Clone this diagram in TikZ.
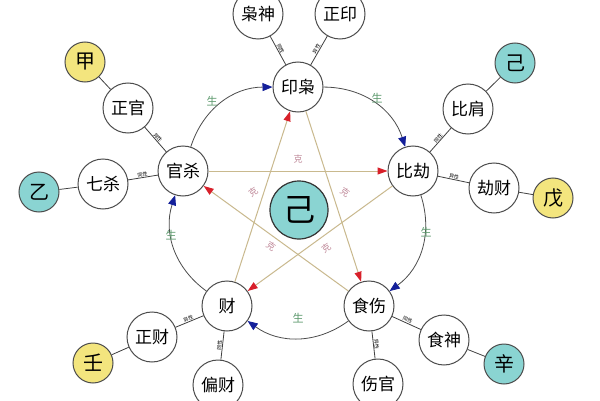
\documentclass[tikz,border=0pt]{standalone}
\usepackage{fontspec}
\setmainfont{Noto Sans CJK SC}
\usetikzlibrary{arrows.meta}
\definecolor{yellowfill}{HTML}{F3E57E}
\definecolor{cyanfill}{HTML}{8AD4D2}
\definecolor{shenggreen}{HTML}{5E9A6E}
\definecolor{kepink}{HTML}{C08A9A}
\definecolor{arrowblue}{HTML}{14209A}
\definecolor{arrowred}{HTML}{D8202A}
\definecolor{startan}{HTML}{C9B98E}
\begin{document}
\begin{tikzpicture}[x=1pt,y=1pt,
  god/.style={circle,draw=black!70,line width=1pt,fill=white,minimum size=50pt,inner sep=0pt,font=\fontsize{17}{17}\selectfont},
  stemy/.style={circle,draw=black!70,line width=1pt,fill=yellowfill,minimum size=40pt,inner sep=0pt,font=\fontsize{20}{20}\selectfont},
  stemc/.style={stemy,fill=cyanfill},
  link/.style={draw=black!75,line width=0.8pt},
  tag/.style={font=\fontsize{5}{5}\selectfont,sloped,above,inner sep=0.3pt,pos=0.5},
  sheng/.style={text=shenggreen,font=\fontsize{11}{11}\selectfont},
  ke/.style={text=kepink,font=\fontsize{9}{9}\selectfont},
  cyc/.style={draw=black!70,line width=0.8pt,-{Triangle[length=10pt,width=8pt,color=arrowblue]}},
  star/.style={draw=startan,line width=1pt,-{Triangle[length=10pt,width=7pt,color=arrowred]}},
]
\useasboundingbox (0,0) rectangle (600,400);
\clip (0,0) rectangle (600,400);
\fill[white] (0,0) rectangle (600,400);

% five main nodes on the cycle
\node[god] (yin) at (298,313) {印枭};
\node[god] (bi) at (413,229) {比劫};
\node[god] (shi) at (369,94) {食伤};
\node[god] (cai) at (227,94) {财};
\node[god] (guan) at (183,229) {官杀};

% centre
\node[circle,draw=black!80,line width=1.2pt,fill=cyanfill,minimum size=58pt,inner sep=0pt,font=\fontsize{32}{32}\selectfont] (ji) at (299,190) {己};

% satellites
\node[god] (xiaoshen) at (258,386) {枭神};
\node[god] (zhengyin) at (340,386) {正印};
\node[god] (zhengguan) at (128,292) {正官};
\node[god] (qisha) at (103,216) {七杀};
\node[god] (bijian) at (468,291) {比肩};
\node[god] (jiecai) at (494,212) {劫财};
\node[god] (zhengcai) at (152,63) {正财};
\node[god] (piancai) at (218,15) {偏财};
\node[god] (shishen) at (444,60) {食神};
\node[god] (shangguan) at (378,16) {伤官};

% stems
\node[stemy] (jia) at (85,338) {甲};
\node[stemc] (yi) at (39,208) {乙};
\node[stemc] (jitop) at (515,337) {己};
\node[stemy] (wu) at (553,202) {戊};
\node[stemy] (ren) at (93,37) {壬};
\node[stemc] (xin) at (504,36) {辛};

% cycle arcs (sheng)
\draw[cyc] (yin) to[bend left=36] (bi);
\draw[cyc] (bi) to[bend left=36] (shi);
\draw[cyc] (shi) to[bend left=36] (cai);
\draw[cyc] (cai) to[bend left=36] (guan);
\draw[cyc] (guan) to[bend left=36] (yin);

% star lines (ke)
\draw[star] (guan) -- (bi);
\draw[star] (yin) -- (shi);
\draw[star] (shi) -- (guan);
\draw[star] (bi) -- (cai);
\draw[star] (cai) -- (yin);

% satellite links
\draw[link] (yin) -- node[tag] {同性} (xiaoshen);
\draw[link] (yin) -- node[tag] {异性} (zhengyin);
\draw[link] (guan) -- node[tag] {异性} (zhengguan);
\draw[link] (guan) -- node[tag] {同性} (qisha);
\draw[link] (bi) -- node[tag] {同性} (bijian);
\draw[link] (bi) -- node[tag] {异性} (jiecai);
\draw[link] (cai) -- node[tag] {异性} (zhengcai);
\draw[link] (cai) -- node[tag] {同性} (piancai);
\draw[link] (shi) -- node[tag] {同性} (shishen);
\draw[link] (shi) -- node[tag] {异性} (shangguan);

% stem links
\draw[link] (jia) -- (zhengguan);
\draw[link] (yi) -- (qisha);
\draw[link] (jitop) -- (bijian);
\draw[link] (wu) -- (jiecai);
\draw[link] (ren) -- (zhengcai);
\draw[link] (xin) -- (shishen);

% sheng labels
\node[sheng] (s1) at (212,299) {生};
\node[sheng] (s2) at (377,302) {生};
\node[sheng] (s3) at (426,168) {生};
\node[sheng] (s4) at (298,82) {生};
\node[sheng] (s5) at (171,165) {生};

% ke labels
\node[ke] (k1) at (298,241) {克};
\node[ke,rotate=35] (k2) at (253,208) {克};
\node[ke,rotate=-35] (k3) at (345,208) {克};
\node[ke,rotate=-35] (k4) at (271,154) {克};
\node[ke,rotate=35] (k5) at (326,152) {克};
\end{tikzpicture}
\end{document}
